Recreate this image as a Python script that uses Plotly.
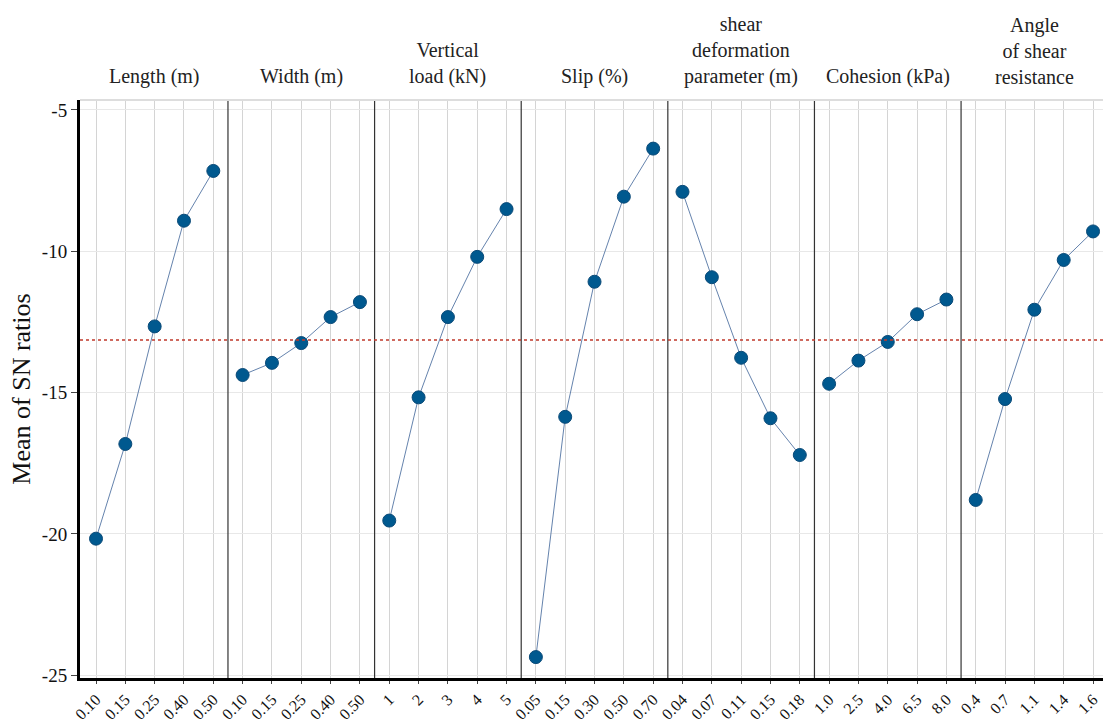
import plotly.graph_objects as go

factors = ["Length (m)", "Width (m)", "Vertical<br>load (kN)", "Slip (%)",
           "shear<br>deformation<br>parameter (m)", "Cohesion (kPa)",
           "Angle<br>of shear<br>resistance"]

levels_length = ["0.10", "0.15", "0.25", "0.40", "0.50"]
levels_width = ["0.10", "0.15", "0.25", "0.40", "0.50"]
levels_load = ["1", "2", "3", "4", "5"]
levels_slip = ["0.05", "0.15", "0.30", "0.50", "0.70"]
levels_shear = ["0.04", "0.07", "0.11", "0.15", "0.18"]
levels_cohesion = ["1.0", "2.5", "4.0", "6.5", "8.0"]
levels_angle = ["0.4", "0.7", "1.1", "1.4", "1.6"]

sn_length = [-20.17, -16.82, -12.66, -8.92, -7.16]
sn_width = [-14.38, -13.95, -13.25, -12.33, -11.80]
sn_load = [-19.53, -15.17, -12.33, -10.20, -8.51]
sn_slip = [-24.36, -15.86, -11.08, -8.07, -6.37]
sn_shear = [-7.90, -10.92, -13.77, -15.91, -17.21]
sn_cohesion = [-14.69, -13.87, -13.21, -12.23, -11.71]
sn_angle = [-18.80, -15.23, -12.07, -10.31, -9.30]

y_ticks = [-5, -10, -15, -20, -25]
y_tick_labels = ["-5", "-10", "-15", "-20", "-25"]

all_levels = [levels_length, levels_width, levels_load, levels_slip,
              levels_shear, levels_cohesion, levels_angle]
all_sn = [sn_length, sn_width, sn_load, sn_slip, sn_shear, sn_cohesion, sn_angle]

grand_mean = sum(sum(s) for s in all_sn) / sum(len(s) for s in all_sn)

serif = "Liberation Serif, Times New Roman, serif"
fig = go.Figure()

tickvals, ticktext = [], []
pos = 0
for lv, sn in zip(all_levels, all_sn):
    xs = list(range(pos, pos + len(lv)))
    tickvals += xs
    ticktext += lv
    fig.add_trace(go.Scatter(
        x=xs, y=sn, mode="lines+markers",
        line=dict(color="#6583ad", width=1),
        marker=dict(color="#00598f", size=13, line=dict(color="#0a4a78", width=1)),
        showlegend=False, hoverinfo="y", cliponaxis=False))
    pos += len(lv)

n_total = pos
seg = len(all_levels[0])

# panel separators
for k in range(1, len(all_levels)):
    xb = k * seg - 0.5
    fig.add_shape(type="line", xref="x", yref="paper", x0=xb, x1=xb, y0=0, y1=1,
                  line=dict(color="#333333", width=1.2), layer="above")

# top thin border
fig.add_shape(type="line", xref="paper", yref="paper", x0=0, x1=1, y0=1, y1=1,
              line=dict(color="#dddddd", width=2))

# grand mean reference line
fig.add_shape(type="line", xref="paper", yref="y", x0=0, x1=1,
              y0=grand_mean, y1=grand_mean,
              line=dict(color="#c0392b", width=1.5, dash="dot"))

# panel headers
for k, name in enumerate(factors):
    fig.add_annotation(x=k * seg + (seg - 1) / 2, y=1, xref="x", yref="paper",
                       text=name, showarrow=False, yanchor="bottom", yshift=10,
                       font=dict(family=serif, size=20, color="#222222"))

fig.update_xaxes(
    range=[-0.546, n_total - 1 + 0.34],
    tickmode="array", tickvals=tickvals, ticktext=ticktext, tickangle=-45,
    tickfont=dict(family=serif, size=16, color="#111111"),
    showgrid=True, gridcolor="#d4d4d4", gridwidth=1,
    showline=True, linecolor="black", linewidth=3,
    ticks="outside", ticklen=3, tickcolor="#444444", zeroline=False,
    automargin=False)

fig.update_yaxes(
    range=[-25.1, -4.65],
    tickmode="array", tickvals=y_ticks, ticktext=y_tick_labels,
    tickfont=dict(family=serif, size=19, color="#111111"),
    showgrid=True, gridcolor="#e8e8e8", gridwidth=1,
    showline=True, linecolor="black", linewidth=3,
    ticks="outside", ticklen=6, tickcolor="#444444", zeroline=False,
    automargin=False,
    title=dict(text="Mean of SN ratios", font=dict(family=serif, size=26, color="#111111"),
               standoff=4))

fig.update_layout(
    width=1103, height=725,
    margin=dict(l=80, r=0, t=100, b=47, autoexpand=False),
    plot_bgcolor="white", paper_bgcolor="white")

fig.write_html("out.html", config={"displayModeBar": False},
               post_script="document.body.style.margin='0';")
